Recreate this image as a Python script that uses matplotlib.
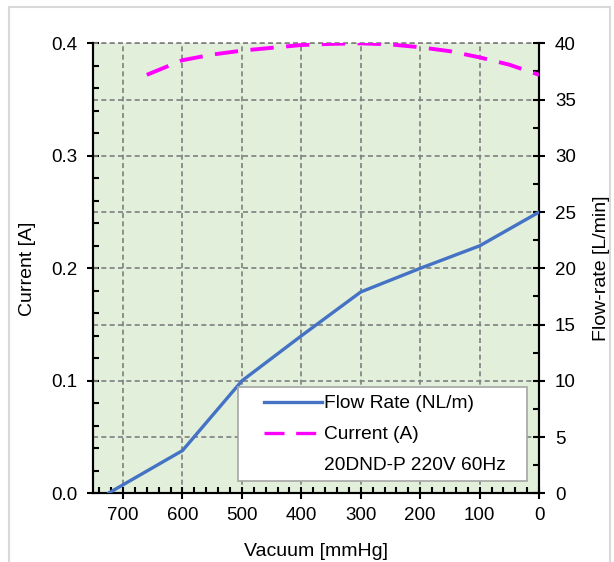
import matplotlib.pyplot as plt
from matplotlib.patches import Rectangle
from matplotlib.lines import Line2D
from matplotlib.ticker import MultipleLocator

plt.rcParams['font.family'] = ['Liberation Sans', 'DejaVu Sans']

# data
flow_vacuum = [725, 600, 500, 400, 300, 200, 100, 0]
flow_rate = [0.0, 3.8, 10.0, 14.0, 17.9, 20.0, 22.0, 25.0]

current_vacuum = [660, 600, 550, 500, 450, 400, 350, 300, 250, 200, 150, 100, 50, 0]
current_amp = [0.372, 0.385, 0.390, 0.3935, 0.396, 0.3985, 0.3995, 0.400,
               0.399, 0.3965, 0.393, 0.3875, 0.381, 0.372]

x_ticks = [700, 600, 500, 400, 300, 200, 100, 0]

grid_col = '#7f7f7f'
grid_ls = (0, (3, 2))

W, H = 614, 562
fig = plt.figure(figsize=(W / 100, H / 100), dpi=100)
ax = fig.add_axes([0.152, 0.1222, 0.726, 0.8007])
ax2 = ax.twinx()

# light frame round the whole picture
fig.patches.append(Rectangle((9 / W, -0.01), 601 / W, 1 - 7 / H + 0.01,
                             transform=fig.transFigure, fill=False,
                             edgecolor='#d9d9d9', linewidth=1.5))

ax.set_facecolor('#e2efda')
ax.set_xlim(750, 0)
ax.set_ylim(0, 0.4)
ax2.set_ylim(0, 40)

ax.set_xticks(x_ticks)
ax.xaxis.set_minor_locator(MultipleLocator(20))
ax.yaxis.set_major_locator(MultipleLocator(0.1))
ax.yaxis.set_minor_locator(MultipleLocator(0.02))
ax.yaxis.set_major_formatter(plt.FormatStrFormatter('%.1f'))
ax2.yaxis.set_major_locator(MultipleLocator(5))
ax2.yaxis.set_minor_locator(MultipleLocator(2.5))

for a in (ax, ax2):
    a.tick_params(which='major', direction='inout', length=9, width=1.5, labelsize=13.5)
    a.tick_params(which='minor', direction='in', length=4, width=1.5)
    for s in a.spines.values():
        s.set_linewidth(1.5)
    a.spines['top'].set_visible(False)
ax.tick_params(axis='x', pad=5)
ax.tick_params(axis='y', pad=7)
ax2.tick_params(axis='y', pad=7)

# grid: vertical from x ticks, horizontal every 5 L/min
for xv in x_ticks:
    ax.axvline(xv, color=grid_col, linestyle=grid_ls, linewidth=1.2, zorder=1)
ax2.grid(True, axis='y', color=grid_col, linestyle=grid_ls, linewidth=1.2)
ax.plot([750, 0], [0.4, 0.4], color=grid_col, linestyle=grid_ls, linewidth=1.2, clip_on=False)

ax.set_zorder(ax2.get_zorder() - 1)
ax2.patch.set_visible(False)

ax2.plot(flow_vacuum, flow_rate, color='#4472c4', linewidth=2.4, solid_capstyle='round', zorder=3)
# current drawn on the flow axis scale (0.1 A = 10 L/min)
ax2.plot(current_vacuum, [c * 100 for c in current_amp], color='#ff00ff', linewidth=2.8,
         linestyle=(0, (6, 3.2)), zorder=3)

ax.set_xlabel('Vacuum [mmHg]', fontsize=14, labelpad=14)
ax.set_ylabel('Current [A]', fontsize=14, labelpad=11)
ax2.set_ylabel('Flow-rate [L/min]', fontsize=14, labelpad=12)

# legend frame drawn by hand, legend content placed inside it
ax2.add_patch(Rectangle((238.3 / W, 1 - 480.7 / H), 288.4 / W, 94 / H,
                        transform=fig.transFigure, facecolor='white',
                        edgecolor='#a6a6a6', linewidth=1.2, zorder=4.5, clip_on=False))

handles = [Line2D([], [], color='#4472c4', linewidth=2.4),
           Line2D([], [], color='#ff00ff', linewidth=2.4, linestyle=(0, (6, 3.5))),
           Line2D([], [], color='none')]
labels = ['Flow Rate (NL/m)', 'Current (A)', '20DND-P 220V 60Hz']
leg = ax2.legend(handles, labels, loc='upper left', bbox_to_anchor=(264 / W, 1 - 395 / H),
                 bbox_transform=fig.transFigure, frameon=False,
                 fontsize=13.8, handlelength=3.0, handletextpad=0.15, borderpad=0,
                 labelspacing=0.7, borderaxespad=0)
leg.set_zorder(5)

fig.savefig('out.png', dpi=100)
